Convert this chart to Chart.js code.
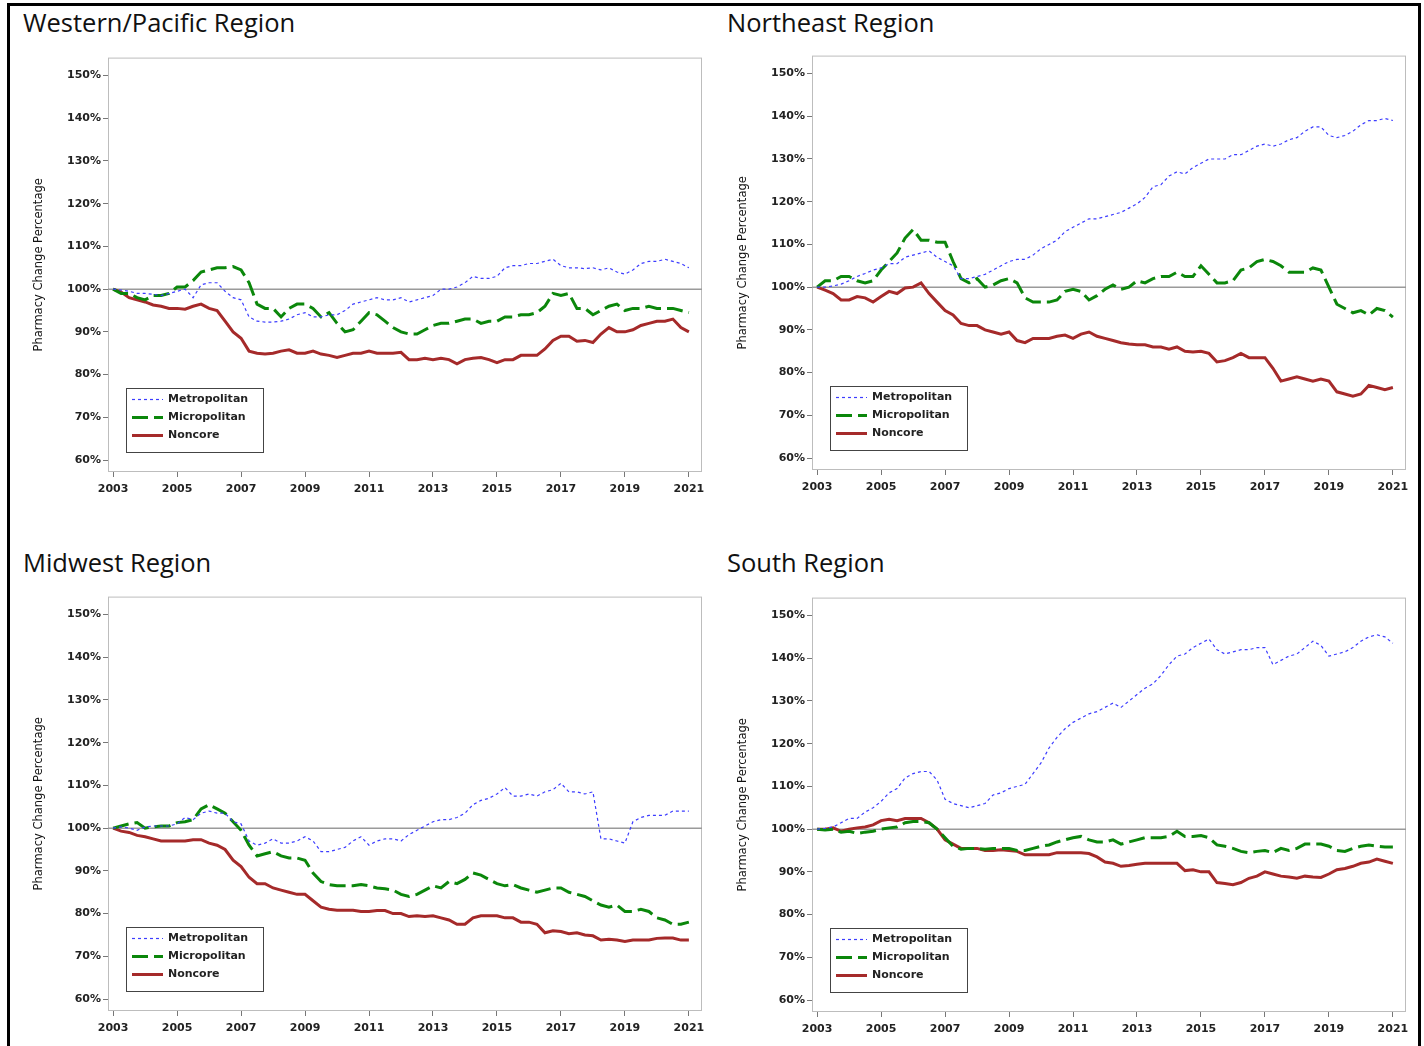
<!DOCTYPE html>
<html>
<head>
<meta charset="utf-8">
<title>Pharmacy Change Percentage by Region</title>
<script src="https://cdn.jsdelivr.net/npm/chart.js@4.4.1/dist/chart.umd.min.js"></script>
<style>
  html, body { margin: 0; padding: 0; background: #fff; overflow: hidden; }
  body { width: 1424px; height: 1046px; position: relative; }
  .outer { position: absolute; left: 7px; top: 3px; width: 1414px; height: 1100px;
           border: 3px solid #000; box-sizing: border-box; }
  .title { position: absolute; font-family: "Open Sans", sans-serif; font-size: 25.5px;
           line-height: 25.5px; color: #111; white-space: nowrap; }
  canvas { position: absolute; }
</style>
</head>
<body>
<div class="outer"></div>

<div class="title" style="left:23px; top:10px;">Western/Pacific Region</div>
<div class="title" style="left:727px; top:10px;">Northeast Region</div>
<div class="title" style="left:23px; top:550px;">Midwest Region</div>
<div class="title" style="left:727px; top:550px;">South Region</div>

<canvas id="west" width="700" height="470" style="left:20px; top:49px;"></canvas>
<canvas id="northeast" width="700" height="470" style="left:724px; top:47px;"></canvas>
<canvas id="midwest" width="700" height="470" style="left:20px; top:588px;"></canvas>
<canvas id="south" width="700" height="470" style="left:724px; top:589px;"></canvas>

<script>
// -----------------------------------------------------------------------------
// Dados: variação percentual de farmácias, trimestral, 2003 a 2021 (base = 100%)
// -----------------------------------------------------------------------------
const seriesLabels = ['Metropolitan', 'Micropolitan', 'Noncore'];
const yearTicks = [2003, 2005, 2007, 2009, 2011, 2013, 2015, 2017, 2019, 2021];
const pctTicks = [60, 70, 80, 90, 100, 110, 120, 130, 140, 150];
const baseline = 100;

// eixo x: um ponto por trimestre, 2003.00 ... 2021.00 (73 pontos)
const quarterX = Array.from({ length: 73 }, (_, i) => 2003 + i / 4);

const westMetro = [
  100, 99.8, 99.5, 99,   99, 98.8, 98.5, 99,   99.5, 100, 98, 101,
  101.5, 101.5, 99.5, 98,   97.5, 93.5, 92.5, 92.3,   92.3, 92.5, 93, 94,
  94.5, 93.5, 93.5, 94,   94, 95, 96.5, 97,   97.5, 98, 97.5, 97.5,
  98, 97, 97.5, 98,   98.5, 100, 100, 100.5,   101.5, 103, 102.5, 102.5,
  103, 105, 105.5, 105.5,   106, 106, 106.5, 107,   105.5, 105, 105, 104.8,
  105, 104.5, 105, 104,   103.5, 104.5, 106, 106.5,   106.5, 107, 106.5, 106,
  105
];
const westMicro = [
  100, 99, 99, 98,   97.5, 98.5, 98.5, 99,   100.5, 100.5, 102, 104,
  104.5, 105, 105, 105.3,   104.5, 101.5, 96.5, 95.5,   95.5, 93.5, 95.5, 96.5,
  96.5, 95.5, 93.5, 94.5,   92, 90, 90.5, 92.5,   94.5, 94, 92.5, 91,
  90, 89.5, 89.5, 90.5,   91.5, 92, 92, 92.5,   93, 93, 92, 92.5,
  92.5, 93.5, 93.5, 94,   94, 94.5, 96, 99,   98.5, 99, 95.5, 95.5,
  94, 95, 96, 96.5,   95, 95.5, 95.5, 96,   95.5, 95.5, 95.5, 95,
  94.5
];
const westNoncore = [
  100, 99.3, 98, 97.5,   97, 96.3, 96, 95.5,   95.5, 95.3, 96, 96.5,
  95.5, 95, 92.5, 90,   88.5, 85.5, 85, 84.8,   85, 85.5, 85.8, 85,
  85, 85.5, 84.8, 84.5,   84, 84.5, 85, 85,   85.5, 85, 85, 85,
  85.2, 83.5, 83.5, 83.8,   83.5, 83.8, 83.5, 82.5,   83.5, 83.8, 84, 83.5,
  82.8, 83.5, 83.5, 84.5,   84.5, 84.5, 86, 88,   89, 89, 87.8, 88,
  87.5, 89.5, 91, 90,   90, 90.5, 91.5, 92,   92.5, 92.5, 93, 91,
  90
];

const northeastMetro = [
  100, 100, 100.3, 100.7,   101.5, 102.5, 103.2, 104,   104.5, 105.5, 105.5, 107,
  107.5, 108, 108.5, 107,   106, 105, 102, 102,   102.5, 103, 104, 105,
  106, 106.5, 106.5, 107.5,   109, 110, 111, 113,   114, 115, 116, 116,
  116.5, 117, 117.5, 118.5,   119.5, 121, 123.5, 124,   126, 127, 126.5, 128,
  129, 130, 130, 130,   131, 131, 132, 133,   133.5, 133, 133.5, 134.5,
  135, 136.5, 137.5, 137.5,   135.5, 135, 135.5, 136.5,   138, 139, 139, 139.5,
  139
];
const northeastMicro = [
  100, 101.5, 101.5, 102.5,   102.5, 101.5, 101, 101.5,   104, 106, 108, 111.5,
  113.5, 111, 111, 110.5,   110.5, 106, 102, 101,   102, 100, 100.5, 101.5,
  102, 101, 97.5, 96.5,   96.5, 96.5, 97, 99,   99.5, 99, 97, 98,
  99.5, 100.5, 99.5, 100,   101.5, 101, 102, 102.5,   102.5, 103.5, 102.5, 102.5,
  105, 103, 101, 101,   101.5, 104, 104.5, 106,   106.5, 106, 105, 103.5,
  103.5, 103.5, 104.5, 104,   100, 96, 95, 94,   94.5, 93.5, 95, 94.5,
  93
];
const northeastNoncore = [
  100, 99.3, 98.5, 97,   97, 97.8, 97.5, 96.5,   97.8, 99, 98.5, 99.8,
  100, 101, 98.5, 96.5,   94.5, 93.5, 91.5, 91,   91, 90, 89.5, 89,
  89.5, 87.5, 87, 88,   88, 88, 88.5, 88.8,   88, 89, 89.5, 88.5,
  88, 87.5, 87, 86.7,   86.5, 86.5, 86, 86,   85.5, 86, 85, 84.8,
  85, 84.5, 82.5, 82.8,   83.5, 84.5, 83.5, 83.5,   83.5, 81, 78, 78.5,
  79, 78.5, 78, 78.5,   78, 75.5, 75, 74.5,   75, 77, 76.5, 76,
  76.5
];

const midwestMetro = [
  100, 100.3, 100, 99.5,   100.3, 100.5, 100.5, 100.5,   101, 102.5, 102, 103.5,
  104, 103.5, 103.5, 101.5,   101, 97, 96, 96.5,   97.5, 96.5, 96.5, 97,
  98, 97, 94.5, 94.5,   95, 95.5, 97, 98,   96, 97, 97.5, 97.5,
  97, 98.5, 99.5, 100.5,   101.5, 102, 102, 102.5,   103.5, 105.5, 106.5, 107,
  108, 109.5, 107.5, 107.5,   108, 107.5, 108.5, 109,   110.5, 108.5, 108.5, 108,
  108.5, 97.5, 97.5, 97,   96.5, 101.5, 102.5, 103,   103, 103, 104, 104,
  104
];
const midwestMicro = [
  100, 100.5, 101, 101.3,   100, 100.3, 100.5, 100.5,   101.3, 101.5, 102, 104.5,
  105.5, 104.5, 103.5, 101.5,   99.5, 96, 93.5, 94,   94.5, 93.5, 93, 93,
  92.5, 89.5, 87.5, 86.8,   86.5, 86.5, 86.5, 86.8,   86.5, 86, 85.8, 85.5,
  84.5, 84, 84.5, 85.5,   86.5, 86, 87.5, 87,   88, 89.5, 89, 88,
  87, 86.5, 86.8, 86,   85.5, 85, 85.5, 86,   86, 85, 84.5, 84,
  83, 82, 81.5, 82,   80.5, 80.5, 81, 80.5,   79, 78.5, 77.5, 77.5,
  78
];
const midwestNoncore = [
  100, 99.3, 99, 98.3,   98, 97.5, 97, 97,   97, 97, 97.3, 97.3,
  96.5, 96, 95, 92.5,   91, 88.5, 87, 87,   86, 85.5, 85, 84.5,
  84.5, 83, 81.5, 81,   80.8, 80.8, 80.8, 80.5,   80.5, 80.7, 80.7, 80,
  80, 79.3, 79.5, 79.3,   79.5, 79, 78.5, 77.5,   77.5, 79, 79.5, 79.5,
  79.5, 79, 79, 78,   78, 77.5, 75.5, 76,   75.8, 75.3, 75.5, 75,
  74.8, 73.8, 74, 73.8,   73.5, 73.8, 73.8, 73.8,   74.2, 74.3, 74.3, 73.8,
  73.8
];

const southMetro = [
  100, 100.2, 100.5, 101.5,   102.5, 102.5, 104, 105,   106.5, 108.5, 109.5, 112,
  113, 113.5, 113.5, 111.5,   107, 106, 105.5, 105,   105.5, 106, 108, 108.5,
  109.5, 110, 110.5, 113,   115.5, 119, 121.5, 123.5,   125, 126, 127, 127.5,
  128.5, 129.5, 128.5, 130,   131.5, 133, 134, 136,   138.5, 140.5, 141, 142.5,
  143.5, 144.5, 142, 141,   141.5, 142, 142, 142.5,   142.5, 138.5, 139.5, 140.5,
  141, 142.5, 144, 143,   140.5, 141, 141.5, 142.5,   144, 145, 145.5, 145,
  143.5
];
const southMicro = [
  100, 99.8, 100, 99.3,   99.5, 99, 99.3, 99.5,   100, 100.3, 100.5, 101.5,
  101.8, 101.8, 101.5, 100,   98, 96, 95.3, 95.5,   95.5, 95.3, 95.5, 95.5,
  95.5, 95, 95, 95.5,   96, 96.3, 97, 97.5,   98, 98.3, 97.5, 97,
  97, 97.5, 96.5, 97,   97.5, 98, 98, 98,   98.3, 99.5, 98.3, 98.3,
  98.5, 98, 96.3, 96,   95.5, 94.8, 94.5, 94.8,   95, 94.5, 95.5, 95,
  95.5, 96.5, 96.5, 96.5,   96, 95, 94.8, 95.5,   96, 96.3, 96, 95.8,
  95.8
];
const southNoncore = [
  100, 100, 100.3, 99.5,   100, 100.3, 100.5, 101,   102, 102.3, 102, 102.5,
  102.5, 102.5, 101.5, 100,   97.5, 96.5, 95.5, 95.5,   95.5, 95, 95, 95.2,
  95, 94.8, 94, 94,   94, 94, 94.5, 94.5,   94.5, 94.5, 94.3, 93.5,
  92.3, 92, 91.3, 91.5,   91.8, 92, 92, 92,   92, 92, 90.3, 90.5,
  90, 90, 87.5, 87.3,   87, 87.5, 88.5, 89,   90, 89.5, 89, 88.8,
  88.5, 89, 88.8, 88.7,   89.5, 90.5, 90.8, 91.3,   92, 92.3, 93, 92.5,
  92
];

// -----------------------------------------------------------------------------
// Estilo
// -----------------------------------------------------------------------------
const tickFont = { family: '"DejaVu Sans", sans-serif', size: 11, weight: 'bold' };
const styles = [
  { color: '#3d3dff', width: 1.2, dash: [3, 3] },  // Metropolitan - pontilhado azul
  { color: '#0b870b', width: 3, dash: [16, 6] },   // Micropolitan - tracejado verde
  { color: '#a52a2a', width: 3, dash: [] }         // Noncore - linha vermelha
];

// moldura cinza do gráfico + linha de referência em 100%
const framePlugin = {
  id: 'frame',
  beforeDatasetsDraw(chart) {
    const { ctx, chartArea: a } = chart;
    const y = chart.scales.y.getPixelForValue(baseline);
    ctx.save();
    ctx.strokeStyle = '#bdbdbd';
    ctx.lineWidth = 1;
    ctx.strokeRect(a.left + 0.5, a.top + 0.5, a.width - 1, a.height - 1);
    ctx.strokeStyle = '#9a9a9a';
    ctx.lineWidth = 1.5;
    ctx.beginPath();
    ctx.moveTo(a.left, y);
    ctx.lineTo(a.right, y);
    ctx.stroke();
    ctx.restore();
  }
};

// legenda dentro da área do gráfico, canto inferior esquerdo
const legendPlugin = {
  id: 'insetLegend',
  afterDraw(chart) {
    const { ctx, chartArea: a } = chart;
    const bx = a.left + 18, by = a.bottom - 84, bw = 137, bh = 64;
    ctx.save();
    ctx.fillStyle = '#fff';
    ctx.fillRect(bx, by, bw, bh);
    ctx.strokeStyle = '#444';
    ctx.lineWidth = 1;
    ctx.strokeRect(bx + 0.5, by + 0.5, bw, bh);
    chart.data.datasets.forEach((ds, i) => {
      const yy = by + 11.5 + i * 18;
      ctx.strokeStyle = ds.borderColor;
      ctx.lineWidth = ds.borderWidth;
      ctx.setLineDash(ds.borderDash);
      ctx.beginPath();
      ctx.moveTo(bx + 6, yy);
      ctx.lineTo(bx + 37, yy);
      ctx.stroke();
      ctx.setLineDash([]);
      ctx.fillStyle = '#222';
      ctx.font = 'bold 11px "DejaVu Sans"';
      ctx.textBaseline = 'middle';
      ctx.fillText(ds.label, bx + 42, yy);
    });
    ctx.restore();
  }
};

function toPoints(values) {
  return values.map((v, i) => ({ x: quarterX[i], y: v }));
}

function renderRegion(canvasId, seriesList) {
  const ctx = document.getElementById(canvasId).getContext('2d');
  new Chart(ctx, {
    type: 'line',
    data: {
      datasets: seriesList.map((values, i) => ({
        label: seriesLabels[i],
        data: toPoints(values),
        borderColor: styles[i].color,
        borderWidth: styles[i].width,
        borderDash: styles[i].dash,
        pointRadius: 0,
        tension: 0,
        fill: false
      }))
    },
    options: {
      responsive: false,
      animation: false,
      devicePixelRatio: 1,
      layout: { padding: { left: 0, top: 8, right: 18, bottom: 0 } },
      plugins: { legend: { display: false }, tooltip: { enabled: false } },
      scales: {
        x: {
          type: 'linear',
          min: 2002.84,
          max: 2021.41,
          afterBuildTicks: s => { s.ticks = yearTicks.map(v => ({ value: v })); },
          afterFit: s => { s.height = 47; },
          border: { display: false },
          grid: { drawOnChartArea: false, tickLength: 5, color: '#777' },
          ticks: { font: tickFont, color: '#222', padding: 6, autoSkip: false,
                   maxRotation: 0, callback: v => String(v) }
        },
        y: {
          type: 'linear',
          min: 57.2,
          max: 154.2,
          afterBuildTicks: s => { s.ticks = pctTicks.map(v => ({ value: v })); },
          afterFit: s => { s.width = 88; },
          border: { display: false },
          grid: { drawOnChartArea: false, tickLength: 5, color: '#777' },
          ticks: { font: tickFont, color: '#222', padding: 2, autoSkip: false,
                   callback: v => v + '%' },
          title: {
            display: true,
            text: 'Pharmacy Change Percentage',
            color: '#111',
            font: { family: '"DejaVu Sans", sans-serif', size: 11.5 },
            padding: { top: 12, bottom: 0 }
          }
        }
      }
    },
    plugins: [framePlugin, legendPlugin]
  });
}

renderRegion('west', [westMetro, westMicro, westNoncore]);
renderRegion('northeast', [northeastMetro, northeastMicro, northeastNoncore]);
renderRegion('midwest', [midwestMetro, midwestMicro, midwestNoncore]);
renderRegion('south', [southMetro, southMicro, southNoncore]);
</script>
</body>
</html>
